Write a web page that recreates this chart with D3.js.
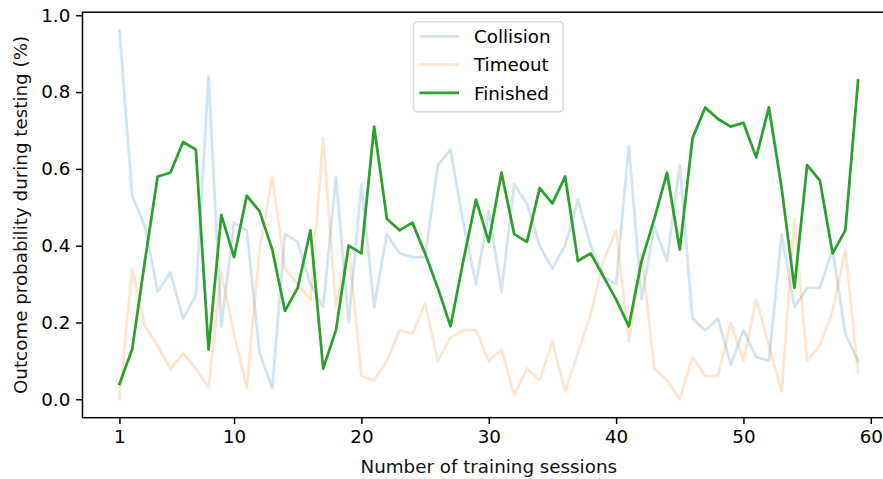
<!DOCTYPE html>
<html><head><meta charset="utf-8">
<script src="https://cdn.jsdelivr.net/npm/d3@7/dist/d3.min.js"></script>
<style>
html,body{margin:0;padding:0;background:#fff;}
svg text{font-family:"DejaVu Sans",sans-serif;}
</style></head>
<body><svg id="c" width="883" height="479"></svg>
<script>
const sessions = d3.range(1, 60);
const collision = [0.96,0.53,0.45,0.28,0.33,0.21,0.27,0.84,0.19,0.46,0.44,0.12,0.03,0.43,0.41,0.30,0.24,0.58,0.20,0.56,
  0.24,0.43,0.38,0.37,0.37,0.61,0.65,0.46,0.30,0.49,0.28,0.56,0.51,0.40,0.34,0.40,0.52,0.40,0.32,0.30,
  0.66,0.26,0.45,0.36,0.61,0.21,0.18,0.21,0.09,0.18,0.11,0.10,0.43,0.24,0.29,0.29,0.39,0.17,0.10];
const timeout = [0.00,0.34,0.19,0.14,0.08,0.12,0.08,0.03,0.33,0.17,0.03,0.39,0.58,0.34,0.30,0.26,0.68,0.24,0.40,0.06,
  0.05,0.10,0.18,0.17,0.25,0.10,0.16,0.18,0.18,0.10,0.13,0.01,0.08,0.05,0.15,0.02,0.12,0.22,0.36,0.44,
  0.15,0.38,0.08,0.05,0.00,0.11,0.06,0.06,0.20,0.10,0.26,0.14,0.02,0.47,0.10,0.14,0.23,0.39,0.07];
const finished = [0.04,0.13,0.36,0.58,0.59,0.67,0.65,0.13,0.48,0.37,0.53,0.49,0.39,0.23,0.29,0.44,0.08,0.18,0.40,0.38,
  0.71,0.47,0.44,0.46,0.38,0.29,0.19,0.36,0.52,0.41,0.59,0.43,0.41,0.55,0.51,0.58,0.36,0.38,0.32,0.26,
  0.19,0.36,0.47,0.59,0.39,0.68,0.76,0.73,0.71,0.72,0.63,0.76,0.55,0.29,0.61,0.57,0.38,0.44,0.83];
const seriesNames = ["Collision","Timeout","Finished"];
const seriesColors = ["rgba(31,119,180,0.2)","rgba(255,127,14,0.2)","#2ca02c"];
const xTicks = [1,10,20,30,40,50,60];
const yTicks = [0.0,0.2,0.4,0.6,0.8,1.0];

const FS = "18.3px";
const svg = d3.select("#c");
const L = 82.5, R = 895, T = 12.2, B = 417.7;
const x = d3.scaleLinear().domain([-1.9, 61.9]).range([L, R]);
const y = d3.scaleLinear().domain([-0.048, 1.008]).range([B, T]);

svg.append("defs").append("clipPath").attr("id","pc")
  .append("rect").attr("x",L).attr("y",T).attr("width",R-L).attr("height",B-T);

const plot = svg.append("g").attr("clip-path","url(#pc)");
const line = d3.line().x((d,i)=>x(sessions[i])).y(d=>y(d));
[collision, timeout, finished].forEach((s,k)=>{
  plot.append("path").datum(s).attr("d",line).attr("fill","none")
    .attr("stroke",seriesColors[k]).attr("stroke-width",2.75)
    .attr("stroke-linejoin","round").attr("stroke-linecap","square");
});

// axes
const xAxis = d3.axisBottom(x).tickValues(xTicks).tickSize(6.4).tickPadding(5.5).tickFormat(d3.format("d"));
const gx = svg.append("g").attr("transform",`translate(0,${B})`).call(xAxis);
const yAxis = d3.axisLeft(y).tickValues(yTicks).tickSize(6.4).tickPadding(5.8).tickFormat(d3.format(".1f"));
const gy = svg.append("g").attr("transform",`translate(${L},0)`).call(yAxis);
[gx,gy].forEach(g=>{
  g.select(".domain").remove();
  g.selectAll(".tick line").attr("stroke","#000").attr("stroke-width",1.47);
  g.selectAll(".tick text").attr("fill","#000").style("font-size",FS).style("font-family","DejaVu Sans");
});
// frame
svg.append("rect").attr("x",L).attr("y",T).attr("width",R-L).attr("height",B-T)
  .attr("fill","none").attr("stroke","#000").attr("stroke-width",1.47);

svg.append("text").attr("x",(L+R)/2).attr("y",472.5).attr("text-anchor","middle")
  .style("font-size",FS).attr("fill","#111").text("Number of training sessions");
svg.append("text").attr("transform",`translate(27,${(T+B)/2}) rotate(-90)`).attr("text-anchor","middle")
  .style("font-size",FS).attr("fill","#111").text("Outcome probability during testing (%)");

// legend
const lg = svg.append("g");
lg.append("rect").attr("x",413.5).attr("y",21.8).attr("width",149.5).attr("height",90)
  .attr("rx",3.5).attr("fill","rgba(255,255,255,0.8)").attr("stroke","#d6d6d6").attr("stroke-width",1.47);
seriesNames.forEach((n,k)=>{
  const yy = 36.3 + k*28.3;
  lg.append("line").attr("x1",419.5).attr("x2",459).attr("y1",yy).attr("y2",yy)
    .attr("stroke",seriesColors[k]).attr("stroke-width",2.75);
  lg.append("text").attr("x",474).attr("y",yy+6.6).style("font-size",FS).attr("fill","#000").text(n);
});
</script></body></html>
